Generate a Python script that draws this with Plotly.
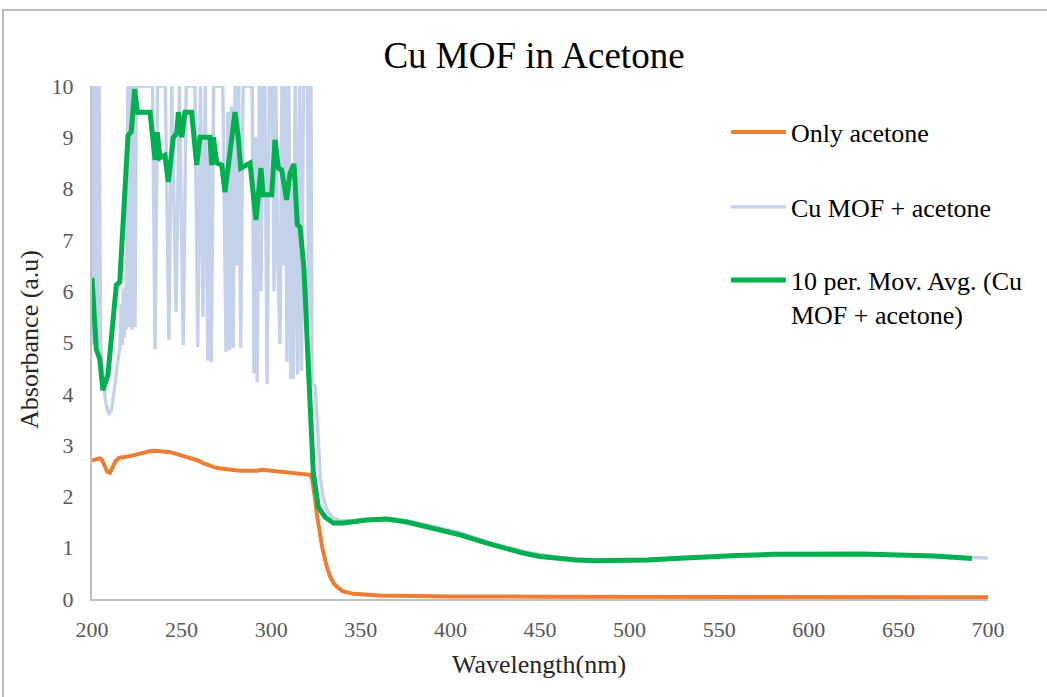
import plotly.graph_objects as go

# ---- Data ----
acetone_wl = [200, 202, 204, 205.5, 207, 208.5, 210, 211.5, 213, 215, 217, 220, 223, 226, 229, 232, 235,
              238, 241, 244, 247, 250, 253, 256, 259, 262, 265, 268, 271, 274, 277, 280, 283, 286, 289,
              292, 295, 298, 301, 304, 307, 310, 313, 316, 319, 321.7, 322.8, 323.5, 324.5, 325.5, 326.5,
              327.2, 328.5, 330, 331, 333, 335, 336.6, 340, 345.8, 352, 360.7, 380, 400, 450, 500, 600, 700]
acetone_abs = [2.70, 2.72, 2.74, 2.72, 2.60, 2.48, 2.46, 2.56, 2.68, 2.75, 2.77, 2.78, 2.80, 2.83, 2.86,
               2.88, 2.89, 2.88, 2.87, 2.86, 2.83, 2.80, 2.77, 2.73, 2.70, 2.65, 2.60, 2.57, 2.55, 2.53,
               2.52, 2.51, 2.50, 2.50, 2.51, 2.50, 2.52, 2.51, 2.50, 2.49, 2.48, 2.46, 2.45, 2.44, 2.43,
               2.42, 2.35, 2.22, 1.95, 1.65, 1.42, 1.28, 1.00, 0.78, 0.63, 0.43, 0.30, 0.24, 0.15, 0.10,
               0.08, 0.07, 0.06, 0.05, 0.045, 0.04, 0.035, 0.035]

mof_wl = [200.0, 200.8, 201.6, 202.4, 203.2, 204.0, 204.8, 205.6, 206.6, 207.6, 208.6, 209.6, 210.6,
          211.6, 212.6, 213.6, 214.6, 215.6, 216.3, 216.9, 217.5, 218.1, 218.7, 219.3, 220.0, 220.8,
          221.6, 222.4, 223.2, 224.0, 224.8, 233.8, 235.2, 236.6, 240.9, 242.9, 244.5, 246.9, 248.8,
          250.9, 252.6, 257.4, 259.0, 260.5, 261.9, 263.2, 264.6, 265.6, 266.6, 267.9, 273.0, 274.8,
          275.8, 276.8, 277.8, 278.8, 279.8, 280.8, 281.8, 283.0, 284.3, 289.4, 290.4, 291.4, 292.2,
          293.4, 294.3, 295.3, 296.5, 297.7, 299.0, 300.6, 301.6, 302.6, 303.6, 304.9, 306.0, 307.0,
          307.9, 308.8, 309.9, 311.0, 311.6, 312.3, 313.4, 314.7, 315.8, 316.9, 318.0, 320.2, 320.9,
          321.6, 322.2, 322.8, 324.5, 325.5, 326.5, 327.5, 329.0, 331.0, 334.0, 338.0, 345.0, 353.0,
          364.0, 375.0, 390.0, 405.0, 420.0, 430.0, 445.0, 460.0, 480.0, 500.0, 520.0, 540.0, 560.0,
          580.0, 600.0, 620.0, 640.0, 660.0, 680.0, 700.0]
mof_abs = [4.95, 10, 5.0, 10, 4.95, 10, 5.0, 4.6, 4.2, 3.85, 3.68, 3.62, 3.66,
           3.85, 4.15, 4.45, 4.7, 4.9, 5.75, 4.95, 6.05, 5.1, 6.1, 5.25, 10, 5.3,
           10, 5.25, 10, 5.3, 10, 10, 4.87, 10, 10, 5.05, 10, 5.6, 10,
           4.95, 10, 10, 4.91, 10, 5.5, 10, 4.65, 9.0, 4.62, 10, 10, 4.81,
           9.5, 4.85, 9.6, 4.9, 10, 6.5, 10, 4.9, 10, 10, 4.4, 9.0, 4.23,
           10, 6.0, 10, 10, 4.19, 10, 10, 6.0, 10, 6.8, 4.97, 10, 6.5,
           10, 4.62, 10, 4.29, 8.0, 4.29, 10, 4.37, 10, 4.45, 10, 10, 5.5,
           10, 10, 4.2, 4.15, 3.6, 2.85, 2.35, 1.98, 1.74, 1.60, 1.53, 1.52, 1.55,
           1.57, 1.53, 1.42, 1.30, 1.12, 1.02, 0.90, 0.81, 0.76, 0.76, 0.78, 0.82, 0.85,
           0.87, 0.88, 0.88, 0.87, 0.85, 0.82, 0.80]

avg_wl = [200.0, 202.4, 204.3, 206.1, 208.9, 211.7, 213.6, 215.5, 220.1, 221.9, 223.8, 225.3, 232.4,
          235.2, 236.4, 237.9, 240.7, 242.6, 245.4, 247.3, 248.2, 250.1, 251.9, 255.6, 258.4, 260.3,
          265.8, 266.8, 267.7, 269.6, 272.4, 274.2, 276.1, 278.0, 279.8, 281.6, 283.0, 288.2, 291.5,
          294.3, 295.5, 300.3, 302.1, 304.0, 305.9, 308.6, 310.5, 312.7, 314.6, 316.1, 318.3, 320.7,
          322.6, 323.5, 326.3, 330.0, 334.7, 340.3, 353.3, 364.5, 375.6, 390.3, 405.4, 420.3, 427.7,
          440, 450, 460, 470, 480, 495, 510, 525, 540, 560, 580, 600, 615, 630, 650, 670, 691]
avg_abs = [6.26, 4.87, 4.68, 4.07, 4.37, 5.40, 6.12, 6.18, 9.04, 9.10, 9.94, 9.49, 9.49,
           8.56, 9.10, 8.60, 8.65, 8.13, 9.00, 9.08, 9.49, 9.00, 9.49, 9.49, 8.46, 9.00,
           9.00, 8.46, 9.00, 8.50, 8.46, 7.93, 8.42, 9.00, 9.49, 9.00, 8.40, 8.50, 7.39,
           8.40, 7.88, 7.88, 8.95, 8.40, 8.36, 7.78, 8.30, 8.48, 7.29, 7.25, 6.43, 4.56,
           3.20, 2.46, 1.79, 1.60, 1.48, 1.48, 1.54, 1.56, 1.50, 1.38, 1.25, 1.09, 1.01,
           0.90, 0.83, 0.79, 0.76, 0.745, 0.745, 0.76, 0.79, 0.82, 0.85, 0.87, 0.88, 0.885, 0.875,
           0.86, 0.84, 0.79]

x_ticks = [200, 250, 300, 350, 400, 450, 500, 550, 600, 650, 700]
y_ticks = [0, 1, 2, 3, 4, 5, 6, 7, 8, 9, 10]

SERIF = "Times New Roman, Liberation Serif, DejaVu Serif, serif"

fig = go.Figure()
fig.add_trace(go.Scatter(x=mof_wl, y=mof_abs, mode="lines", name="Cu MOF + acetone",
                         line=dict(color="#C3D1EB", width=3.4), legend="legend2", showlegend=True))
fig.add_trace(go.Scatter(x=acetone_wl, y=acetone_abs, mode="lines", name="Only acetone",
                         line=dict(color="#ED7D31", width=4), legend="legend", showlegend=True))
fig.add_trace(go.Scatter(x=avg_wl, y=avg_abs, mode="lines",
                         name="10 per. Mov. Avg. (Cu<br>MOF + acetone)",
                         line=dict(color="#00B050", width=5), legend="legend3", showlegend=True))

leg_common = dict(xref="paper", yref="paper", x=0.7075, xanchor="left", yanchor="middle",
                  bgcolor="rgba(0,0,0,0)", borderwidth=0, itemwidth=55,
                  font=dict(family=SERIF, size=26, color="#000000"))

fig.update_layout(
    width=1047, height=697,
    margin=dict(l=92, r=59, t=86, b=98),
    paper_bgcolor="white", plot_bgcolor="white",
    showlegend=True,
    font=dict(family=SERIF),
    title=dict(text="Cu MOF in Acetone", x=534 / 1047, xanchor="center", xref="container",
               y=1 - 55 / 697, yanchor="middle", yref="container",
               font=dict(family=SERIF, size=37, color="#000000")),
    xaxis=dict(range=[200, 700], tickvals=x_ticks, showgrid=False, zeroline=False,
               showline=True, linecolor="#BFBFBF", linewidth=2, ticks="",
               tickfont=dict(family=SERIF, size=22, color="#595959"), ticklabelstandoff=10),
    yaxis=dict(range=[0, 10], tickvals=y_ticks, showgrid=False, zeroline=False,
               showline=True, linecolor="#BFBFBF", linewidth=2, ticks="",
               tickfont=dict(family=SERIF, size=22, color="#595959"), ticklabelstandoff=12),
    legend=dict(**leg_common, y=(599 - 132) / 513),
    legend2=dict(**leg_common, y=(599 - 207) / 513),
    legend3=dict(**leg_common, y=(599 - 297) / 513, valign="top"),
    annotations=[
        dict(text="Wavelength(nm)", xref="paper", yref="paper", x=(539 - 92) / 896,
             y=(599 - 664) / 513, xanchor="center", yanchor="middle", showarrow=False,
             font=dict(family=SERIF, size=26, color="#262626")),
        dict(text="Absorbance (a.u)", xref="paper", yref="paper", x=(29 - 92) / 896,
             y=(599 - 340) / 513, xanchor="center", yanchor="middle", showarrow=False,
             textangle=-90, font=dict(family=SERIF, size=26, color="#262626")),
    ],
    shapes=[dict(type="rect", xref="paper", yref="paper",
                 x0=(3 - 92) / 896, x1=(1060 - 92) / 896,
                 y0=(599 - 710) / 513, y1=(599 - 10) / 513,
                 line=dict(color="#A6A6A6", width=1.5), layer="below")],
)

fig.write_html("out.html")
